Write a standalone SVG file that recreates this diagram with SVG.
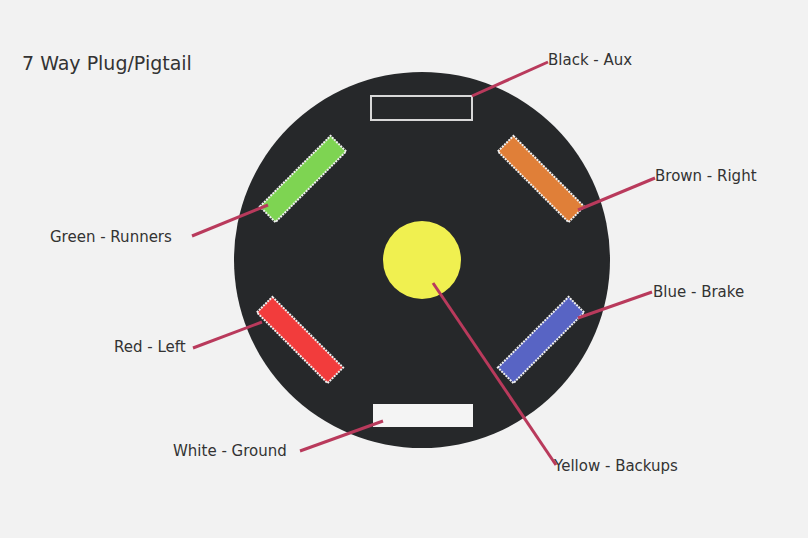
<svg xmlns="http://www.w3.org/2000/svg" width="808" height="538" viewBox="0 0 808 538">
<style>
text{font-family:"DejaVu Sans","Liberation Sans",sans-serif;fill:#333;font-size:15px}
.pin{stroke:#f0f0f0;stroke-width:2;stroke-dasharray:2 1}
.ld{stroke:#b93a5c;stroke-width:3;fill:none}
</style>
<rect width="808" height="538" fill="#f2f2f2"/>
<text x="22" y="70" style="font-size:19px">7 Way Plug/Pigtail</text>
<g id="plug"><circle cx="422" cy="260" r="188" fill="#26282a"/></g>
<g id="black"><rect x="371" y="96" width="101" height="24" fill="#26282a" stroke="#d8d8d8" stroke-width="2"/></g>
<g id="green"><rect x="-50" y="-11" width="100" height="22" fill="#7ed452" class="pin" transform="translate(303,179) rotate(-45)"/></g>
<g id="brown"><rect x="-50" y="-11" width="100" height="22" fill="#e07f38" class="pin" transform="translate(541,179) rotate(45)"/></g>
<g id="red"><rect x="-50" y="-11" width="100" height="22" fill="#f23c3c" class="pin" transform="translate(300,340) rotate(45)"/></g>
<g id="blue"><rect x="-50" y="-11" width="100" height="22" fill="#5864c4" class="pin" transform="translate(541,340) rotate(-45)"/></g>
<g id="white"><rect x="373" y="404" width="100" height="23" fill="#f4f4f4"/></g>
<g id="yellow"><circle cx="422" cy="260" r="39" fill="#f0f050"/></g>
<g id="connectors">
<line class="ld" x1="472" y1="96" x2="548" y2="62"/>
<line class="ld" x1="578" y1="210" x2="655" y2="178"/>
<line class="ld" x1="192" y1="236" x2="268" y2="205"/>
<line class="ld" x1="193" y1="348" x2="262" y2="322"/>
<line class="ld" x1="578" y1="318" x2="652" y2="292"/>
<line class="ld" x1="300" y1="451" x2="383" y2="421"/>
<line class="ld" x1="433" y1="283" x2="556" y2="465"/>
</g>
<g id="labels">
<text x="548" y="65">Black - Aux</text>
<text x="655" y="181">Brown - Right</text>
<text x="50" y="242">Green - Runners</text>
<text x="114" y="352">Red - Left</text>
<text x="653" y="297">Blue - Brake</text>
<text x="173" y="456">White - Ground</text>
<text x="554" y="471">Yellow - Backups</text>
</g>
</svg>
